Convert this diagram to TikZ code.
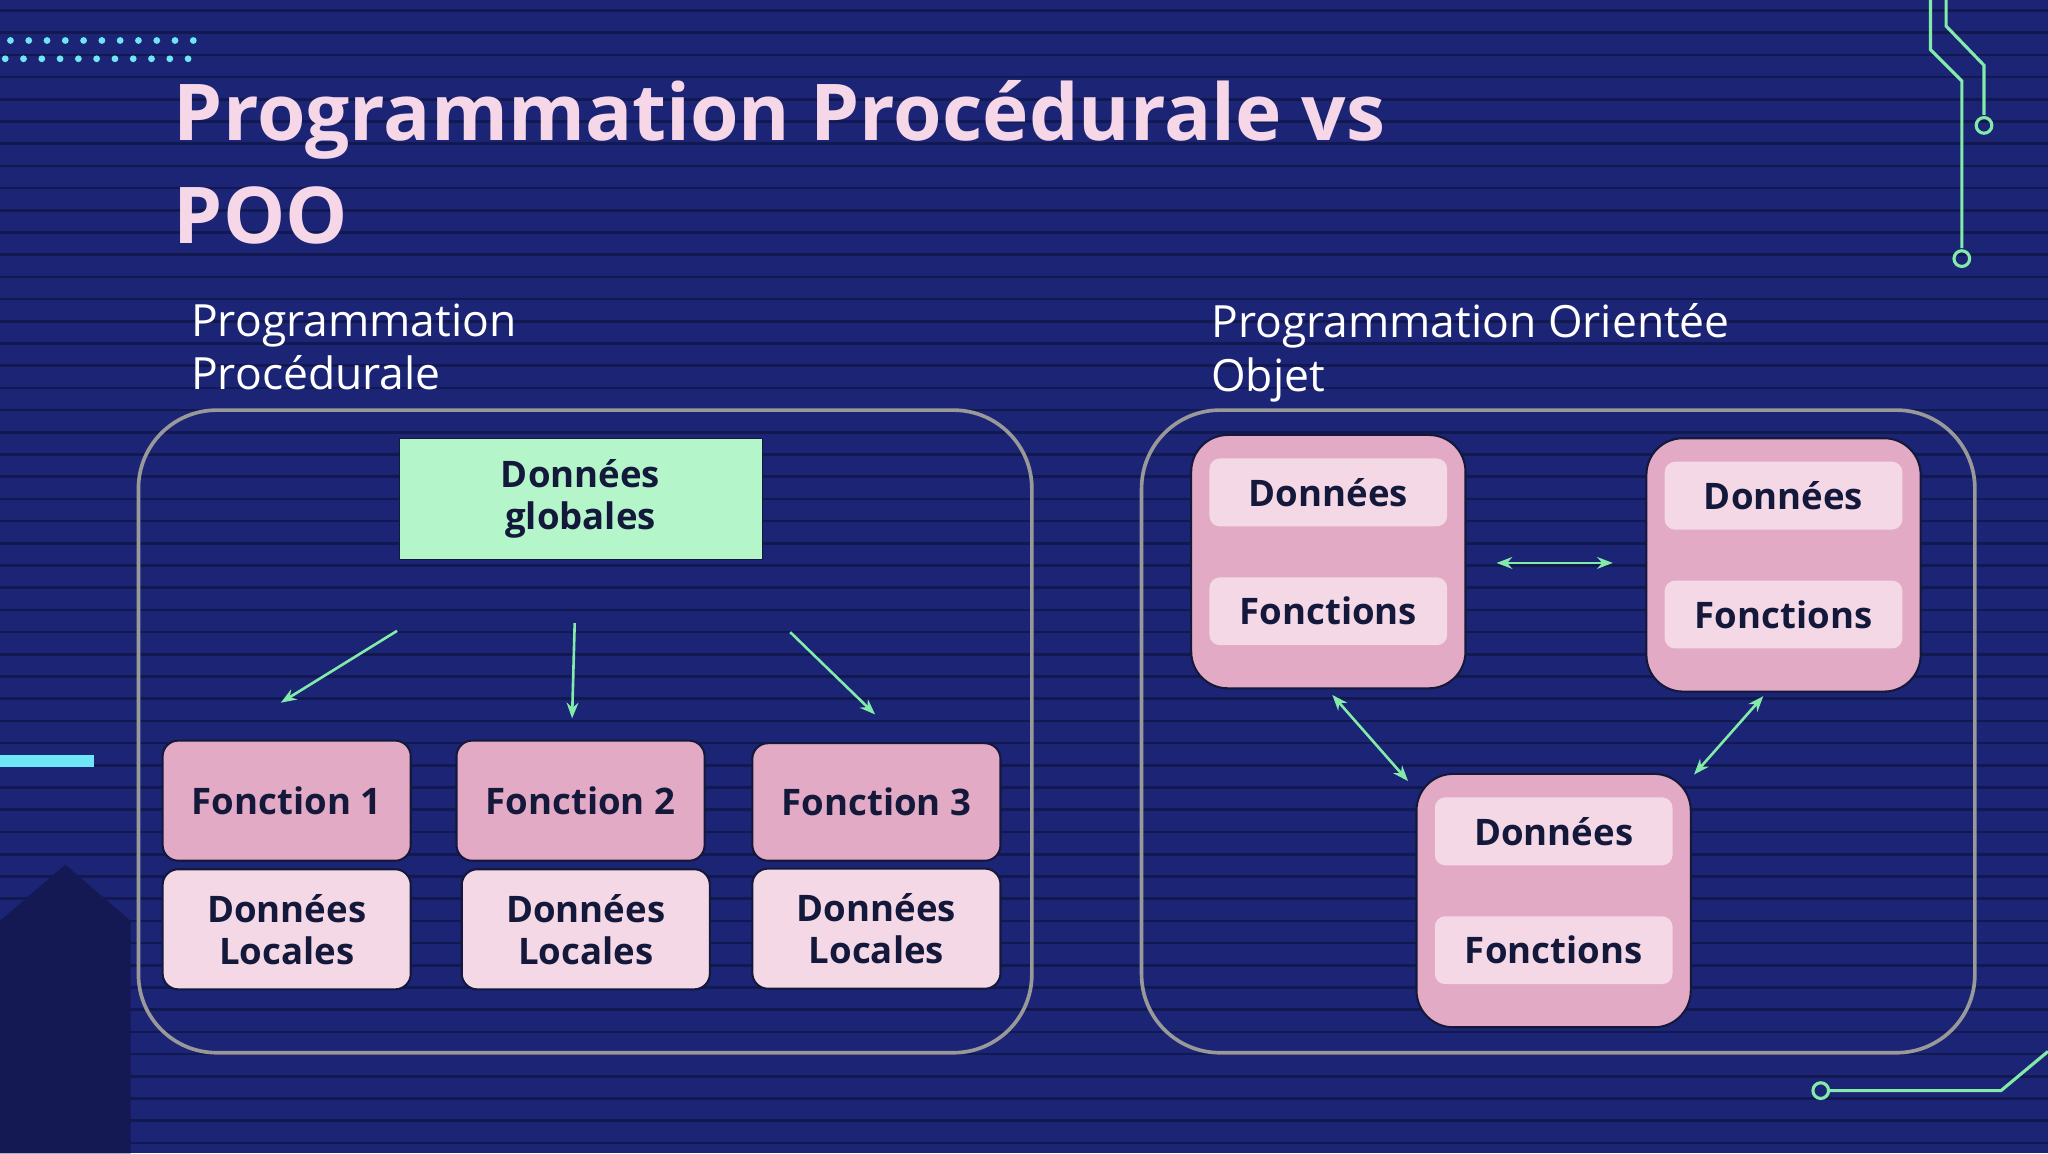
\documentclass[tikz,border=0pt]{standalone}
\usepackage{fontspec}
\setmainfont{Open Sans}
\usetikzlibrary{arrows.meta}
\definecolor{bgblue}{RGB}{28,36,118}
\definecolor{stripe}{RGB}{18,24,80}
\definecolor{mint}{RGB}{180,246,202}
\definecolor{arrowmint}{RGB}{130,235,170}
\definecolor{pinkbox}{RGB}{226,170,196}
\definecolor{lightpink}{RGB}{245,216,230}
\definecolor{navytext}{RGB}{20,25,60}
\definecolor{titlepink}{RGB}{245,215,232}
\definecolor{cyandot}{RGB}{110,230,245}
\tikzset{
  fbox/.style={draw=navytext,line width=0.8pt,fill=pinkbox,rounded corners=6pt,font=\bfseries\fontsize{14}{16}\selectfont,text=navytext,align=center},
  lbox/.style={draw=navytext,line width=0.8pt,fill=lightpink,rounded corners=6pt,font=\bfseries\fontsize{14}{16}\selectfont,text=navytext,align=center},
  objbox/.style={draw=navytext,line width=0.8pt,fill=pinkbox,rounded corners=14pt},
  inbox/.style={fill=lightpink,rounded corners=4pt,font=\bfseries\fontsize{14}{16}\selectfont,text=navytext},
  link/.style={arrowmint,line width=1pt,-{Stealth[length=6pt]}},
  dlink/.style={arrowmint,line width=1pt,{Stealth[length=6pt]}-{Stealth[length=6pt]}},
  frame/.style={draw=gray!80,line width=1.4pt,rounded corners=30pt},
}
\begin{document}
\begin{tikzpicture}[x=0.5pt,y=-0.5pt]
\useasboundingbox (0,0) rectangle (1568,883);
% background
\fill[bgblue] (0,0) rectangle (1568,883);
\foreach \y in {8,25,...,883}
  \draw[stripe,line width=1pt] (0,\y) -- (1568,\y);
\fill[bgblue!70!black] (0,705) -- (50,662) -- (100,705) -- (100,883) -- (0,883) -- cycle;
% decorations
\foreach \x in {8,22,...,148} {
  \fill[cyandot] (\x,31) circle (2.6);
  \fill[cyandot] (\x-4,45) circle (2.6);
}
\fill[cyandot] (0,578) rectangle (72,587);
\draw[arrowmint,line width=1.2pt] (1478,0) -- (1478,38) -- (1502,62) -- (1502,190);
\draw[arrowmint,line width=1.2pt] (1490,0) -- (1490,20) -- (1519,50) -- (1519,88);
\draw[arrowmint,line width=1.2pt] (1502,198) circle (6);
\draw[arrowmint,line width=1.2pt] (1519,96) circle (6);
\draw[arrowmint,line width=1.2pt] (1394,835) circle (6) (1400,835) -- (1532,835) -- (1568,805);
% title
\node[anchor=west,text=titlepink,font=\bfseries\fontsize{30}{34}\selectfont] (title1) at (126,92) {Programmation Procédurale vs};
\node[anchor=west,text=titlepink,font=\bfseries\fontsize{30}{34}\selectfont] (title2) at (126,165) {POO};
% subtitles
\node[anchor=north west,text=white,align=left,font=\fontsize{17}{20.5}\selectfont,inner sep=0pt] (subproc) at (146,232) {Programmation\\Procédurale};
\node[anchor=north west,text=white,align=left,font=\fontsize{17}{20.5}\selectfont,inner sep=0pt] (subpoo) at (927,232) {Programmation Orientée\\Objet};
% containers
\draw[frame] (106,314) rectangle (790,806);
\draw[frame] (874,314) rectangle (1512,806);
% procedural side
\node[fill=mint,draw=navytext,minimum width=139pt,minimum height=46pt,font=\bfseries\fontsize{14}{16}\selectfont,text=navytext,align=center] (glob) at (444.5,382) {Données\\globales};
\node[fbox,minimum width=95pt,minimum height=46pt] (f1) at (219.5,613) {Fonction 1};
\node[fbox,minimum width=95pt,minimum height=46pt] (f2) at (444.5,613) {Fonction 2};
\node[fbox,minimum width=95pt,minimum height=45pt] (f3) at (671,614) {Fonction 3};
\node[lbox,minimum width=95pt,minimum height=46pt] (l1) at (219.5,711.5) {Données\\Locales};
\node[lbox,minimum width=95pt,minimum height=46pt] (l2) at (448.5,711.5) {Données\\Locales};
\node[lbox,minimum width=95pt,minimum height=46pt] (l3) at (671,711) {Données\\Locales};
\coordinate (g1) at (304,483);
\coordinate (g2) at (440,477);
\coordinate (g3) at (605,484);
\draw[link] (g1) -- (215,538);
\draw[link] (g2) -- (438,550);
\draw[link] (g3) -- (670,547);
% object side
\foreach \n/\x/\y in {oa/1017/430, ob/1365.5/432.5, oc/1189.5/689.5} {
  \node[objbox,minimum width=105pt,minimum height=97pt] (\n) at (\x,\y) {};
  \node[inbox,minimum width=91pt,minimum height=26pt] (\n d) at (\x,\y-53) {Données};
  \node[inbox,minimum width=91pt,minimum height=26pt] (\n f) at (\x,\y+38) {Fonctions};
}
\draw[dlink] (oa.east) ++(23,1) -- ++(89,0);
\draw[dlink] (1020,532) -- (1078,598);
\draw[dlink] (1350,533) -- (1297,593);
\end{tikzpicture}
\end{document}
